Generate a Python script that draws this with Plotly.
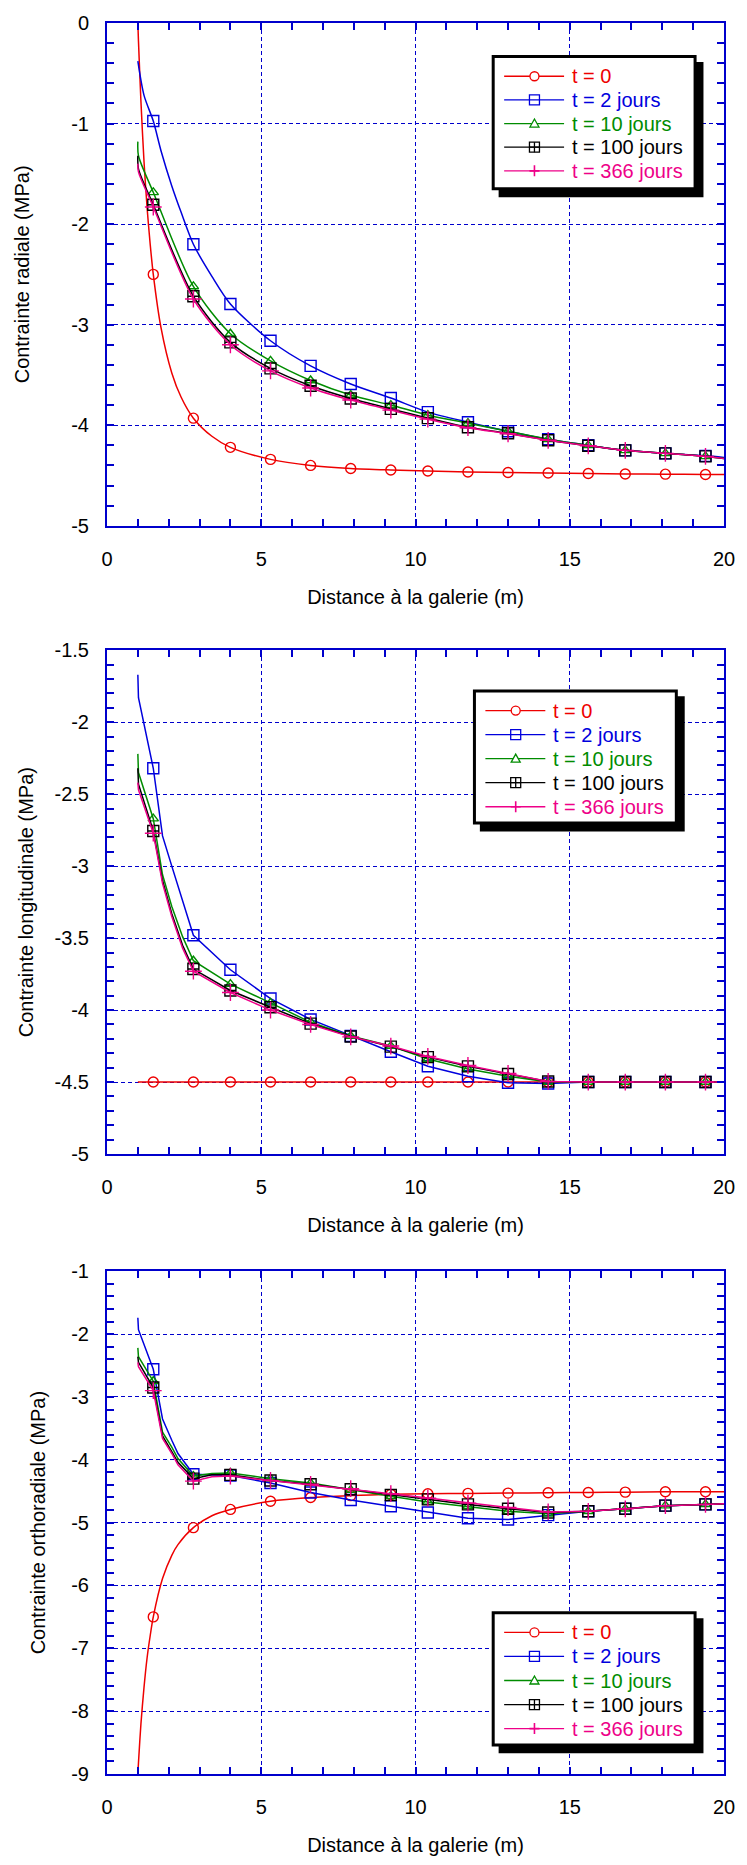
import plotly.graph_objects as go

# ---------------- data ----------------
NAMES = ["t = 0", "t = 2 jours", "t = 10 jours", "t = 100 jours", "t = 366 jours"]
MARKER_X = [1.5, 2.8, 4.0, 5.3, 6.6, 7.9, 9.2, 10.4, 11.7, 13.0, 14.3, 15.6, 16.8, 18.1, 19.4]

# Panel 1 : contrainte radiale
X_RAD = [1.0, 1.02, 1.1, 1.2, 1.3, 1.4, 1.5, 1.75, 2.1, 2.4, 2.8, 3.4, 4.0, 5.3, 6.6,
         7.9, 9.2, 10.4, 11.7, 13.0, 14.3, 15.6, 16.8, 18.1, 19.4, 20.0]
RAD_T0 = [0.0, -0.18, -0.78, -1.38, -1.84, -2.20, -2.50, -3.03, -3.48, -3.72, -3.93, -4.11,
          -4.22, -4.34, -4.40, -4.43, -4.445, -4.455, -4.465, -4.47, -4.475, -4.48, -4.485,
          -4.487, -4.49, -4.49]
RAD_T2 = [-0.38, None, None, -0.72, None, None, -0.975, -1.27, -1.62, -1.88, -2.20, -2.52,
          -2.795, -3.16, -3.41, -3.59, -3.73, -3.87, -3.97, -4.06, -4.14, -4.20, -4.25,
          -4.28, -4.305, -4.32]
RAD_T10 = [-1.18, -1.32, None, None, None, None, -1.684, None, None, None, -2.62, None,
           -3.09, -3.36, -3.555, -3.70, -3.80, -3.90, -3.98, -4.06, -4.14, -4.20, -4.25,
           -4.28, -4.31, -4.33]
RAD_T100 = [-1.32, -1.45, None, None, None, None, -1.807, None, None, None, -2.717, None,
            -3.176, -3.435, -3.608, -3.735, -3.838, -3.93, -4.02, -4.08, -4.15, -4.205,
            -4.25, -4.28, -4.31, -4.33]
RAD_T366 = [-1.40, -1.48, None, None, None, None, -1.83, None, None, None, -2.745, None,
            -3.20, -3.46, -3.63, -3.75, -3.85, -3.94, -4.025, -4.085, -4.15, -4.205,
            -4.25, -4.28, -4.31, -4.33]

# Panel 2 : contrainte longitudinale
X_LON = [1.0, 1.02, 1.5, 1.8, 2.1, 2.45, 2.8, 4.0, 5.3, 6.6, 7.9, 9.2, 10.4, 11.7, 13.0,
         14.3, 15.6, 16.8, 18.1, 19.4, 20.0]
LON_T0 = [-4.5] * 21
LON_T2 = [-1.67, -1.83, -2.32, -2.79, -3.00, -3.24, -3.48, -3.72, -3.92, -4.065, -4.18,
          -4.29, -4.39, -4.46, -4.505, -4.51, -4.5, -4.5, -4.5, -4.5, -4.5]
LON_T10 = [-2.22, -2.35, -2.67, -3.06, -3.28, -3.49, -3.657, -3.82, -3.95, -4.085, -4.18,
           -4.25, -4.34, -4.41, -4.46, -4.50, -4.5, -4.5, -4.5, -4.5, -4.5]
LON_T100 = [-2.32, -2.43, -2.756, -3.10, -3.33, -3.55, -3.715, -3.864, -3.98, -4.094,
            -4.184, -4.254, -4.327, -4.391, -4.444, -4.496, -4.5, -4.5, -4.5, -4.5, -4.5]
LON_T366 = [-2.42, -2.47, -2.771, -3.12, -3.35, -3.57, -3.73, -3.878, -4.0, -4.10, -4.186,
            -4.25, -4.322, -4.385, -4.44, -4.496, -4.5, -4.5, -4.5, -4.5, -4.5]

# Panel 3 : contrainte orthoradiale
X_ORT = [1.0, 1.02, 1.1, 1.2, 1.3, 1.4, 1.5, 1.8, 2.1, 2.3, 2.8, 3.4, 4.0, 5.3, 6.6, 7.9,
         9.2, 10.4, 11.7, 13.0, 14.3, 15.6, 16.8, 18.1, 19.4, 20.0]
ORT_T0 = [-9.0, -8.82, -8.2, -7.62, -7.15, -6.80, -6.50, -5.89, -5.52, -5.35, -5.08, -4.89,
          -4.79, -4.66, -4.60, -4.57, -4.55, -4.54, -4.535, -4.53, -4.525, -4.52, -4.515,
          -4.51, -4.51, -4.51]
ORT_T2 = [-1.74, -1.93, None, None, None, None, -2.56, -3.35, -3.69, -3.90, -4.23, None,
          -4.25, -4.37, -4.52, -4.64, -4.74, -4.84, -4.93, -4.95, -4.88, -4.82, -4.78,
          -4.73, -4.71, -4.70]
ORT_T10 = [-2.22, -2.36, None, None, None, None, -2.75, -3.56, -3.80, -3.98, -4.26, -4.22,
           -4.21, -4.30, -4.37, -4.48, -4.58, -4.67, -4.74, -4.82, -4.86, -4.82, -4.78,
           -4.73, -4.71, -4.70]
ORT_T100 = [-2.36, -2.45, None, None, None, None, -2.85, -3.62, -3.87, -4.04, -4.30, -4.24,
            -4.24, -4.33, -4.39, -4.47, -4.56, -4.63, -4.71, -4.78, -4.84, -4.82, -4.78,
            -4.73, -4.71, -4.70]
ORT_T366 = [-2.45, -2.52, None, None, None, None, -2.90, -3.66, -3.90, -4.08, -4.34, -4.27,
            -4.26, -4.33, -4.39, -4.46, -4.54, -4.61, -4.69, -4.76, -4.83, -4.82, -4.78,
            -4.73, -4.71, -4.70]

X_TICKS = [0, 5, 10, 15, 20]
X_TICKTEXT = ["0", "5", "10", "15", "20"]
Y1_TICKS = [0, -1, -2, -3, -4, -5]
Y1_TICKTEXT = ["0", "-1", "-2", "-3", "-4", "-5"]
Y2_TICKS = [-1.5, -2, -2.5, -3, -3.5, -4, -4.5, -5]
Y2_TICKTEXT = ["-1.5", "-2", "-2.5", "-3", "-3.5", "-4", "-4.5", "-5"]
Y3_TICKS = [-1, -2, -3, -4, -5, -6, -7, -8, -9]
Y3_TICKTEXT = ["-1", "-2", "-3", "-4", "-5", "-6", "-7", "-8", "-9"]

X_TITLE = "Distance à la galerie (m)"
Y_TITLES = ["Contrainte radiale (MPa)", "Contrainte longitudinale (MPa)",
            "Contrainte orthoradiale (MPa)"]

# ---------------- style ----------------
COLORS = ["#ee0000", "#0000dd", "#008c00", "#000000", "#ee0088"]
SYMBOLS = ["circle-open", "square-open", "triangle-up-open", "square-cross-open",
           "cross-thin-open"]
MSIZES = [10, 11, 9, 11, 12]
AXIS_BLUE = "#0000cc"
FONT = "Liberation Sans, Arial, Helvetica, sans-serif"

W, H = 747, 1865
L, R, T, B = 107, 15, 14.7, 88
PANEL_PX = [(14.7, 520.7), (646.0, 1153.0), (1271.0, 1777.0)]


def xf(px):
    return (px - L) / (W - L - R)


def yf(py):
    return (H - B - py) / (H - T - B)


fig = go.Figure()

panels = [
    (X_RAD, [RAD_T0, RAD_T2, RAD_T10, RAD_T100, RAD_T366], ["spline"] * 5),
    (X_LON, [LON_T0, LON_T2, LON_T10, LON_T100, LON_T366], ["linear"] * 5),
    (X_ORT, [ORT_T0, ORT_T2, ORT_T10, ORT_T100, ORT_T366],
     ["spline", "linear", "linear", "linear", "linear"]),
]

for p, (xs, series, shapes) in enumerate(panels):
    xa = "x" if p == 0 else f"x{p + 1}"
    ya = "y" if p == 0 else f"y{p + 1}"
    for j, ys in enumerate(series):
        fig.add_trace(go.Scatter(
            x=xs, y=ys, mode="lines", connectgaps=True, xaxis=xa, yaxis=ya,
            line=dict(color=COLORS[j], width=1.5, shape=shapes[j], smoothing=0.8),
            name=NAMES[j], showlegend=False, hoverinfo="skip"))
        mx = [x for x, y in zip(xs, ys) if x in MARKER_X and y is not None]
        my = [y for x, y in zip(xs, ys) if x in MARKER_X and y is not None]
        fig.add_trace(go.Scatter(
            x=mx, y=my, mode="markers", xaxis=xa, yaxis=ya, name=NAMES[j],
            showlegend=False,
            marker=dict(symbol=SYMBOLS[j], size=MSIZES[j], color=COLORS[j],
                        line=dict(width=1.4, color=COLORS[j]))))

axis_common = dict(
    showline=True, linecolor=AXIS_BLUE, linewidth=2, mirror="allticks",
    ticks="inside", ticklen=7, tickwidth=1.5, tickcolor=AXIS_BLUE,
    showgrid=True, gridcolor=AXIS_BLUE, gridwidth=1, griddash="4px,3px",
    zeroline=False, tickfont=dict(family=FONT, size=20, color="black"),
)

y_specs = [
    ([-5, 0], Y1_TICKS, Y1_TICKTEXT, 0.2, 36),
    ([-5, -1.5], Y2_TICKS, Y2_TICKTEXT, 0.1, 16),
    ([-9, -1], Y3_TICKS, Y3_TICKTEXT, 0.2, 20),
]

layout = dict(
    width=W, height=H, margin=dict(l=L, r=R, t=T, b=B),
    paper_bgcolor="white", plot_bgcolor="white", showlegend=False,
    font=dict(family=FONT, color="black"),
)

for p in range(3):
    top, bot = PANEL_PX[p]
    xkey = "xaxis" if p == 0 else f"xaxis{p + 1}"
    ykey = "yaxis" if p == 0 else f"yaxis{p + 1}"
    yanchor = "y" if p == 0 else f"y{p + 1}"
    xanchor = "x" if p == 0 else f"x{p + 1}"
    rng, tv, tt, mdt, stand = y_specs[p]
    layout[xkey] = dict(
        axis_common, domain=[0, 1], anchor=yanchor, range=[0, 20],
        tickmode="array", tickvals=X_TICKS, ticktext=X_TICKTEXT,
        ticklabelstandoff=14,
        minor=dict(tickmode="linear", tick0=0, dtick=1, ticks="inside", ticklen=7,
                   tickwidth=1.5, tickcolor=AXIS_BLUE, showgrid=False),
        title=dict(text=X_TITLE, font=dict(family=FONT, size=20, color="black"),
                   standoff=21),
    )
    layout[ykey] = dict(
        axis_common, domain=[yf(bot), yf(top)], anchor=xanchor, range=rng,
        tickmode="array", tickvals=tv, ticktext=tt, ticklabelstandoff=12,
        minor=dict(tickmode="linear", tick0=0, dtick=mdt, ticks="inside", ticklen=7,
                   tickwidth=1.5, tickcolor=AXIS_BLUE, showgrid=False),
        title=dict(text=Y_TITLES[p], font=dict(family=FONT, size=20, color="black"),
                   standoff=stand),
    )

fig.update_layout(**layout)


# ---------------- legends (box with drop shadow) ----------------
def add_legend(bx, by, pitch):
    w, h = 207.5, 136.0
    fig.add_shape(type="rect", xref="paper", yref="paper", layer="above",
                  x0=xf(bx + 7), x1=xf(bx + w + 7), y0=yf(by + 7), y1=yf(by + h + 7),
                  fillcolor="black", line=dict(width=0))
    fig.add_shape(type="rect", xref="paper", yref="paper", layer="above",
                  x0=xf(bx + 1.5), x1=xf(bx + w - 1.5), y0=yf(by + 1.5),
                  y1=yf(by + h - 1.5), fillcolor="white",
                  line=dict(color="black", width=3))
    for j in range(5):
        cy = by + 21.3 + j * pitch
        col = COLORS[j]
        fig.add_shape(type="line", xref="paper", yref="paper", layer="above",
                      x0=xf(bx + 12.6), x1=xf(bx + 73.3), y0=yf(cy), y1=yf(cy),
                      line=dict(color=col, width=1.3))
        g = dict(xref="paper", yref="paper", layer="above", xsizemode="pixel",
                 ysizemode="pixel", xanchor=xf(bx + 43.3), yanchor=yf(cy))
        if j == 0:
            fig.add_shape(type="circle", x0=-4.5, x1=4.5, y0=-4.5, y1=4.5,
                          fillcolor="white", line=dict(color=col, width=1.3), **g)
        elif j == 1:
            fig.add_shape(type="rect", x0=-5, x1=5, y0=-5, y1=5,
                          line=dict(color=col, width=1.3), **g)
        elif j == 2:
            fig.add_shape(type="path", path="M-4.5,-3.5 L4.5,-3.5 L0,4.5 Z",
                          fillcolor="white", line=dict(color=col, width=1.3), **g)
        elif j == 3:
            fig.add_shape(type="rect", x0=-5, x1=5, y0=-5, y1=5,
                          line=dict(color=col, width=1.3), **g)
            fig.add_shape(type="path", path="M-5,0 L5,0 M0,-5 L0,5",
                          line=dict(color=col, width=1.3), **g)
        else:
            fig.add_shape(type="path", path="M-5,0 L5,0 M0,-5.5 L0,5.5",
                          line=dict(color=col, width=1.6), **g)
        fig.add_annotation(xref="paper", yref="paper", x=xf(bx + 79), y=yf(cy),
                           text=NAMES[j], showarrow=False, xanchor="left",
                           yanchor="middle",
                           font=dict(family=FONT, size=20, color=col))


add_legend(496.7, 47.0, 23.8)
add_legend(477.7, 685.4, 24.2)
add_legend(496.7, 1613.2, 24.2)

fig.write_html(
    "out.html",
    config={"displayModeBar": False},
    post_script="document.body.style.margin='0';document.body.style.overflow='hidden';",
)
